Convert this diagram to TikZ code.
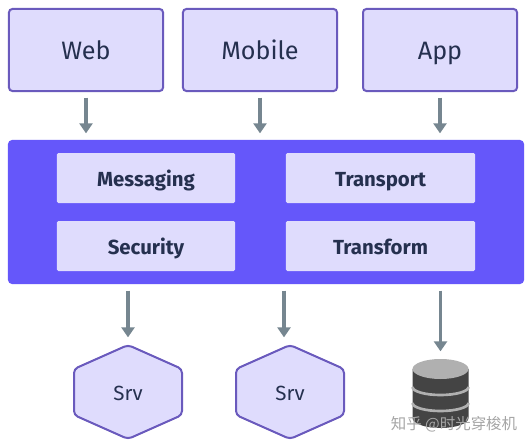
\documentclass[tikz,border=0pt]{standalone}
\usepackage{fontspec}
\setmainfont{Fira Sans}
\newfontfamily\cjkfont{Noto Sans CJK SC}
\definecolor{panelblue}{RGB}{101,87,250}
\definecolor{boxfill}{RGB}{223,220,253}
\definecolor{boxline}{RGB}{106,90,189}
\definecolor{arrowgray}{RGB}{118,134,144}
\definecolor{textdark}{RGB}{37,48,79}
\definecolor{dbdark}{RGB}{68,68,68}
\definecolor{dblight}{RGB}{176,176,176}
\usetikzlibrary{arrows.meta,calc}

\begin{document}
\begin{tikzpicture}[
      x=0.03cm, y=-0.03cm,
      client/.style={draw=boxline, line width=0.06cm, fill=boxfill, rounded corners=0.1cm, outer sep=0pt,
                  minimum width=4.62cm, minimum height=2.46cm, text height=16.8pt, text depth=0pt,
                  text=textdark, font=\fontsize{21.5}{24}\selectfont},
      panel/.style={fill=panelblue, rounded corners=0.12cm, outer sep=0pt, minimum width=15.48cm, minimum height=4.32cm},
      module/.style={fill=boxfill, rounded corners=0.04cm, outer sep=0pt, minimum height=1.5cm, text height=13.7pt,
                  text depth=0pt, text=textdark, font=\fontsize{17.4}{20}\selectfont\bfseries},
      srv/.style={outer sep=0pt, minimum width=3.3cm, minimum height=2.88cm, text height=13.7pt, text depth=0pt,
                  text=textdark, font=\fontsize{17.5}{20}\selectfont},
      hexline/.style={draw=boxline, line width=0.06cm, fill=boxfill, rounded corners=0.12cm},
      arr/.style={-{Triangle[length=0.3cm,width=0.39cm]}, draw=arrowgray, line width=0.11cm,
                  shorten <=0.2cm, shorten >=0.2cm},
      watermark/.style={text=black!35, font=\cjkfont\fontsize{13.2}{16}\selectfont}
    ]
      \fill[white] (0,0) rectangle (532,448);
      \useasboundingbox (0,0) rectangle (532,448);

      \node[client] (web) at (86,50) {Web};
      \node[client] (mobile) at (260,50) {Mobile};
      \node[client] (app) at (440,50) {App};

      \node[panel] (bus) at (266,212) {};
      \node[module, minimum width=5.34cm] (messaging) at (146,178) {Messaging};
      \node[module, minimum width=5.34cm] (security) at (146,246) {Security};
      \node[module, minimum width=5.67cm] (transport) at (380.5,178) {Transport};
      \node[module, minimum width=5.67cm] (transform) at (380.5,246) {Transform};

      \foreach \cx/\name in {128/srvone, 290/srvtwo} {
        \draw[hexline] (\cx,345) -- (\cx+54,369) -- (\cx+54,415) -- (\cx,439)
          -- (\cx-54,415) -- (\cx-54,369) -- cycle;
        \node[srv] (\name) at (\cx,392) {Srv};
      }

      \node[outer sep=0pt, minimum width=1.71cm, minimum height=2.1cm] (db) at (440.5,393) {};
      \fill[dbdark] (412.5,369) -- (412.5,418) arc[start angle=180, end angle=360, x radius=28, y radius=-10]
        -- (468.5,369) -- cycle;
      \draw[dblight, line width=0.08cm] (412.5,387) arc[start angle=180, end angle=360, x radius=28, y radius=-8];
      \draw[dblight, line width=0.08cm] (412.5,403) arc[start angle=180, end angle=360, x radius=28, y radius=-8];
      \fill[dblight] (440.5,369) ellipse[x radius=28, y radius=10];

      \node[watermark] (brand) at (454,424) {知乎 @时光穿梭机};

      \draw[arr] (web) -- (web |- bus.north);
      \draw[arr] (mobile) -- (mobile |- bus.north);
      \draw[arr] (app) -- (app |- bus.north);
      \draw[arr] (srvone |- bus.south) -- (srvone);
      \draw[arr] ($(srvtwo |- bus.south)+(-6,0)$) -- ($(srvtwo.north)+(-6,0)$);
      \draw[arr] (db |- bus.south) -- (db);
    \end{tikzpicture}
\end{document}
